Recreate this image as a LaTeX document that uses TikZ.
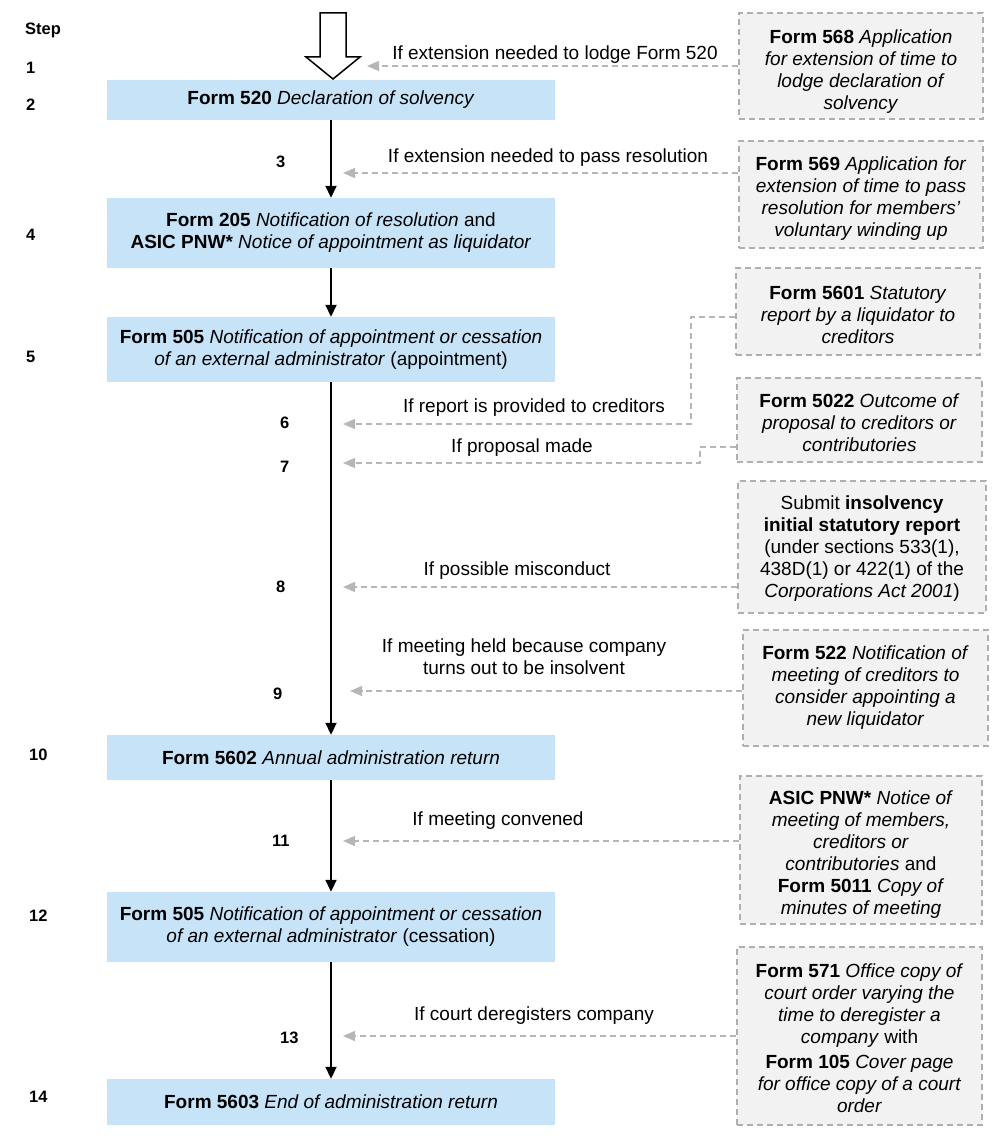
\documentclass[tikz,border=0pt]{standalone}
\usepackage{fontspec}
\setmainfont{Liberation Sans}
\usetikzlibrary{arrows.meta}
\definecolor{boxblue}{RGB}{198,227,248}
\definecolor{boxgrey}{RGB}{242,242,242}
\definecolor{dashgrey}{RGB}{175,175,175}
\definecolor{linegrey}{RGB}{182,182,182}
\newcommand\dgfont{\fontsize{19}{22}\selectfont}
\newcommand\dgstepfont{\fontsize{16.5}{19}\selectfont\bfseries}
\tikzset{
  bluebox/.style={fill=boxblue, draw=none, minimum width=448pt, inner sep=0pt, align=center, font=\dgfont},
  greybox/.style={fill=boxgrey, draw=dashgrey, dash pattern=on 6pt off 4pt, line width=1.2pt, inner sep=0pt},
  boxtext/.style={align=center, inner sep=0pt, font=\dgfont},
  lbl/.style={inner sep=0pt, anchor=base, font=\dgfont, align=center},
  steplbl/.style={inner sep=0pt, anchor=base west, font=\dgstepfont},
  flow/.style={draw=black, line width=1.8pt, -{Triangle[width=11pt,length=12pt]}},
  gline/.style={draw=linegrey, line width=1.3pt, dash pattern=on 6pt off 4pt, -{Triangle[width=10pt,length=12pt]}},
}
\begin{document}
\begin{tikzpicture}[x=1pt,y=-1pt]
\useasboundingbox (0,0) rectangle (1000,1147);

% big hollow arrow
\draw[line width=1.5pt, fill=white, line join=miter] (320,13) -- (346,13) -- (346,57) -- (360,57) -- (333,79) -- (306,57) -- (320,57) -- cycle;

% blue boxes
\node[bluebox, minimum height=40pt] (b1) at (331,100) {\textbf{Form 520} \textit{Declaration of solvency}};
\node[bluebox, minimum height=70pt] (b2) at (331,233) {\fontsize{19}{25}\selectfont\textbf{Form 205} \textit{Notification of resolution} and\\\textbf{ASIC PNW*} \textit{Notice of appointment as liquidator}};
\node[bluebox, minimum height=65pt] (b3) at (331,349.5) {\textbf{Form 505} \textit{Notification of appointment or cessation}\\\textit{of an external administrator} (appointment)};
\node[bluebox, minimum height=45pt] (b4) at (331,757.5) {\textbf{Form 5602} \textit{Annual administration return}};
\node[bluebox, minimum height=70pt] (b5) at (331,927) {\textbf{Form 505} \textit{Notification of appointment or cessation}\\\textit{of an external administrator} (cessation)};
\node[bluebox, minimum height=46pt] (b6) at (331,1102) {\textbf{Form 5603} \textit{End of administration return}};

% flow arrows
\draw[flow] (b1.south) -- (b2.north);
\draw[flow] (b2.south) -- (b3.north);
\draw[flow] (b3.south) -- (b4.north);
\draw[flow] (b4.south) -- (b5.north);
\draw[flow] (b5.south) -- (b6.north);

% grey boxes
\node[greybox, minimum width=244pt, minimum height=106pt] (A) at (861,66) {};
\node[boxtext] (At) at (861,72) {\textbf{Form 568} \textit{Application}\\\textit{for extension of time to}\\\textit{lodge declaration of}\\\textit{solvency}};
\node[greybox, minimum width=244pt, minimum height=107pt] (B) at (861,194.5) {};
\node[boxtext] (Bt) at (861,199) {\textbf{Form 569} \textit{Application for}\\\textit{extension of time to pass}\\\textit{resolution for members’}\\\textit{voluntary winding up}};
\node[greybox, minimum width=244pt, minimum height=87pt] (C) at (858,311.5) {};
\node[boxtext] (Ct) at (858,315) {\textbf{Form 5601} \textit{Statutory}\\\textit{report by a liquidator to}\\\textit{creditors}};
\node[greybox, minimum width=245pt, minimum height=84pt] (D) at (859.5,420) {};
\node[boxtext] (Dt) at (859.5,423) {\textbf{Form 5022} \textit{Outcome of}\\\textit{proposal to creditors or}\\\textit{contributories}};
\node[greybox, minimum width=248pt, minimum height=132pt] (E) at (862,547) {};
\node[boxtext] (Et) at (862,549) {Submit \textbf{insolvency}\\\textbf{initial statutory report}\\(under sections 533(1),\\438D(1) or 422(1) of the\\\textit{Corporations Act 2001})};
\node[greybox, minimum width=245pt, minimum height=116pt] (F) at (865.5,688) {};
\node[boxtext] (Ft) at (865.5,688) {\textbf{Form 522} \textit{Notification of}\\\textit{meeting of creditors to}\\\textit{consider appointing a}\\\textit{new liquidator}};
\node[greybox, minimum width=242pt, minimum height=148pt] (G) at (861,850) {};
\node[boxtext] (Gt) at (861,855) {\textbf{ASIC PNW*} \textit{Notice of}\\\textit{meeting of members,}\\\textit{creditors or}\\\textit{contributories} and\\\textbf{Form 5011} \textit{Copy of}\\\textit{minutes of meeting}};
\node[greybox, minimum width=245pt, minimum height=178pt] (H) at (859.5,1036) {};
\node[boxtext] (Ht) at (859.5,1038) {\textbf{Form 571} \textit{Office copy of}\\\textit{court order varying the}\\\textit{time to deregister a}\\\textit{company} with\\[3pt]\textbf{Form 105} \textit{Cover page}\\\textit{for office copy of a court}\\\textit{order}};

% connector ends
\coordinate (t1) at (367,66);
\coordinate (t3) at (343,173);
\coordinate (t6) at (343,424);
\coordinate (t7) at (343,463);
\coordinate (t8) at (343,587);
\coordinate (t9) at (350,691);
\coordinate (t11) at (343,841);
\coordinate (t13) at (343,1036);
\coordinate (c6) at (691,317);
\coordinate (c7) at (700,447);

\draw[gline] (A.west) -- (t1);
\draw[gline] (B.west |- t3) -- (t3);
\draw[gline] (C.west |- c6) -- (c6) |- (t6);
\draw[gline] (D.west |- c7) -- (c7) |- (t7);
\draw[gline] (E.west |- t8) -- (t8);
\draw[gline] (F.west |- t9) -- (t9);
\draw[gline] (G.west |- t11) -- (t11);
\draw[gline] (H.west |- t13) -- (t13);

% connector labels
\node[lbl] (l1) at (555,60) {If extension needed to lodge Form 520};
\node[lbl] (l3) at (548,163) {If extension needed to pass resolution};
\node[lbl] (l6) at (534,412) {If report is provided to creditors};
\node[lbl] (l7) at (522,452) {If proposal made};
\node[lbl] (l8) at (517,575) {If possible misconduct};
\node[lbl, anchor=center] (l9) at (524,657) {If meeting held because company\\turns out to be insolvent};
\node[lbl] (l11) at (498,825) {If meeting convened};
\node[lbl] (l13) at (534,1020) {If court deregisters company};

% step numbers
\node[steplbl] (s0) at (25,35) {Step};
\node[steplbl] (s1) at (26,74) {1};
\node[steplbl] (s2) at (26,111) {2};
\node[steplbl] (s3) at (276,168) {3};
\node[steplbl] (s4) at (26,241) {4};
\node[steplbl] (s5) at (26,362) {5};
\node[steplbl] (s6) at (280,428) {6};
\node[steplbl] (s7) at (280,472) {7};
\node[steplbl] (s8) at (276,592) {8};
\node[steplbl] (s9) at (273,699) {9};
\node[steplbl] (s10) at (29,760) {10};
\node[steplbl] (s11) at (272,846) {11};
\node[steplbl] (s12) at (29,921) {12};
\node[steplbl] (s13) at (280,1043) {13};
\node[steplbl] (s14) at (29,1102) {14};
\end{tikzpicture}
\end{document}
